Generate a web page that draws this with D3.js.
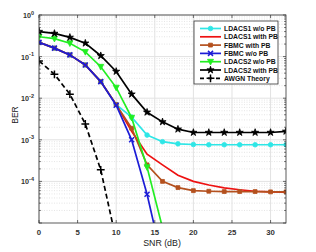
<!DOCTYPE html>
<html>
<head>
<meta charset="utf-8">
<script src="https://cdn.jsdelivr.net/npm/d3@7"></script>
<style>
  body { margin: 0; background: #fff; }
  svg { font-family: "Liberation Sans", Arial, sans-serif; }
</style>
</head>
<body>
<svg width="316" height="252"></svg>
<script>
var snr = [0, 2, 4, 6, 8, 10, 12, 14, 16, 18, 20, 22, 24, 26, 28, 30, 32];

var ldacs1NoPB = [0.22, 0.16, 0.11, 0.063, 0.025, 0.0070, 0.0035, 0.0013, 0.0009, 0.0008, 0.00077, 0.00076, 0.00076, 0.00076, 0.00076, 0.00076, 0.00076];
var ldacs1PB = [0.22, 0.16, 0.11, 0.063, 0.025, 0.0070, 0.0016, 0.00045, 0.00025, 0.00014, 0.0001, 0.000082, 0.00007, 0.000063, 0.000058, 0.000056, 0.000055];
var fbmcPB = [0.22, 0.16, 0.11, 0.063, 0.025, 0.0070, 0.0019, 0.00025, 0.0001, 0.000071, 0.00006, 0.000058, 0.000057, 0.000057, 0.000057, 0.000056, 0.000056];
var fbmcNoPB = [0.22, 0.16, 0.11, 0.063, 0.025, 0.0068, 0.001, 0.000049, 0.0000012];
var ldacs2NoPB = [0.30, 0.27, 0.21, 0.13, 0.057, 0.018, 0.0034, 0.00022, 0.0000077];
var ldacs2PB = [0.40, 0.36, 0.29, 0.21, 0.105, 0.044, 0.0125, 0.0046, 0.0027, 0.0018, 0.0015, 0.0015, 0.0015, 0.0015, 0.0015, 0.0015, 0.0016];
var awgn = [0.0786, 0.0375, 0.0125, 0.0024, 0.00019, 0.0000039];

var xTicks = [0, 5, 10, 15, 20, 25, 30];
var yTicks = [1e0, 1e-1, 1e-2, 1e-3, 1e-4];

var series = [
  {name: "LDACS1 w/o PB", values: ldacs1NoPB, color: "#2ee6e6", marker: "circle"},
  {name: "LDACS1 with PB", values: ldacs1PB, color: "#ee1111", marker: null},
  {name: "FBMC with PB", values: fbmcPB, color: "#b4501e", marker: "square"},
  {name: "FBMC w/o PB", values: fbmcNoPB, color: "#1c1cd6", marker: "x"},
  {name: "LDACS2 w/o PB", values: ldacs2NoPB, color: "#22ee22", marker: "tri"},
  {name: "LDACS2 with PB", values: ldacs2PB, color: "#000000", marker: "star"},
  {name: "AWGN Theory", values: awgn, color: "#000000", marker: "plus", dash: "5,3"}
];

var pLeft = 39, pRight = 286, pTop = 15, pBottom = 223;
var svg = d3.select("svg");

var x = d3.scaleLinear().domain([0, 32]).range([pLeft, pRight]);
var y = d3.scaleLog().domain([1e-5, 1]).range([pBottom, pTop]);

// grid
var grid = svg.append("g");
var minor = [];
for (var e = -5; e < 0; e++) {
  for (var m = 2; m < 10; m++) minor.push(m * Math.pow(10, e));
}
grid.selectAll(".minor").data(minor).enter().append("line")
  .attr("x1", pLeft).attr("x2", pRight)
  .attr("y1", d => y(d)).attr("y2", d => y(d))
  .attr("stroke", "#d4d4d4").attr("stroke-width", 0.6)
  .attr("stroke-dasharray", "1,1.5");
grid.selectAll(".majory").data(yTicks).enter().append("line")
  .attr("x1", pLeft).attr("x2", pRight)
  .attr("y1", d => y(d)).attr("y2", d => y(d))
  .attr("stroke", "#e2e2e2").attr("stroke-width", 1);
grid.selectAll(".majorx").data(xTicks).enter().append("line")
  .attr("y1", pTop).attr("y2", pBottom)
  .attr("x1", d => x(d)).attr("x2", d => x(d))
  .attr("stroke", "#e2e2e2").attr("stroke-width", 1);

svg.append("clipPath").attr("id", "clip")
  .append("rect").attr("x", pLeft).attr("y", pTop)
  .attr("width", pRight - pLeft).attr("height", pBottom - pTop);

var plot = svg.append("g").attr("clip-path", "url(#clip)");

// marker shapes, roughly MATLAB sized
function symbolPath(type) {
  if (type === "circle") return d3.symbol(d3.symbolCircle, 17)();
  if (type === "square") return d3.symbol(d3.symbolSquare, 15)();
  if (type === "star") return d3.symbol(d3.symbolStar, 16)();
  if (type === "x") return d3.symbol(d3.symbolX, 18)();
  if (type === "plus") return d3.symbol(d3.symbolPlus, 22)();
  if (type === "tri") {
    var h = 3;
    return "M" + (-h) + "," + (-h * 0.8) + "L" + h + "," + (-h * 0.8) + "L0," + (h * 1.1) + "Z";
  }
  return "";
}

var line = d3.line()
  .x((d, i) => x(snr[i]))
  .y(d => y(d));

series.forEach(s => {
  plot.append("path")
    .datum(s.values)
    .attr("fill", "none")
    .attr("stroke", s.color)
    .attr("stroke-width", 1.7)
    .attr("stroke-dasharray", s.dash || null)
    .attr("d", line);
  if (s.marker) {
    var filled = s.marker !== "x" && s.marker !== "plus";
    plot.selectAll(null).data(s.values).enter().append("path")
      .attr("transform", (d, i) => `translate(${x(snr[i])},${y(d)})`)
      .attr("d", symbolPath(s.marker))
      .attr("fill", filled ? s.color : "none")
      .attr("stroke", s.color)
      .attr("stroke-width", filled ? 0.8 : 1.5);
  }
});

// frame and ticks
svg.append("rect")
  .attr("x", pLeft).attr("y", pTop)
  .attr("width", pRight - pLeft).attr("height", pBottom - pTop)
  .attr("fill", "none").attr("stroke", "#333").attr("stroke-width", 0.8);

var tk = svg.append("g").attr("stroke", "#333").attr("stroke-width", 0.7);
xTicks.forEach(t => {
  tk.append("line").attr("x1", x(t)).attr("x2", x(t)).attr("y1", pBottom).attr("y2", pBottom - 3);
  tk.append("line").attr("x1", x(t)).attr("x2", x(t)).attr("y1", pTop).attr("y2", pTop + 3);
});
yTicks.concat([1e-5]).forEach(t => {
  tk.append("line").attr("x1", pLeft).attr("x2", pLeft + 3).attr("y1", y(t)).attr("y2", y(t));
  tk.append("line").attr("x1", pRight).attr("x2", pRight - 3).attr("y1", y(t)).attr("y2", y(t));
});
minor.forEach(t => {
  tk.append("line").attr("x1", pLeft).attr("x2", pLeft + 1.8).attr("y1", y(t)).attr("y2", y(t));
  tk.append("line").attr("x1", pRight).attr("x2", pRight - 1.8).attr("y1", y(t)).attr("y2", y(t));
});

svg.append("g").selectAll("text").data(xTicks).enter().append("text")
  .attr("x", d => x(d)).attr("y", 235)
  .attr("text-anchor", "middle")
  .attr("font-size", 7.8).attr("font-weight", "bold").attr("fill", "#333")
  .text(d => d);

var yl = svg.append("g").selectAll("text").data(yTicks).enter().append("text")
  .attr("x", 34).attr("y", d => y(d) + 3)
  .attr("text-anchor", "end")
  .attr("font-size", 7.2).attr("font-weight", "bold").attr("fill", "#333");
yl.append("tspan").text("10");
yl.append("tspan").attr("dy", -3.5).attr("font-size", 5.5)
  .text(d => Math.round(Math.log10(d)) === 0 ? "0" : "-" + Math.round(-Math.log10(d)));

svg.append("text")
  .attr("transform", "translate(18,115) rotate(-90)")
  .attr("text-anchor", "middle")
  .attr("font-size", 8.5).attr("fill", "#222")
  .text("BER");

svg.append("text")
  .attr("x", 162).attr("y", 246)
  .attr("text-anchor", "middle")
  .attr("font-size", 8.8).attr("fill", "#222")
  .text("SNR (dB)");

// legend
var lg = svg.append("g").attr("transform", "translate(194,21)");
lg.append("rect").attr("width", 84).attr("height", 63)
  .attr("fill", "#fff").attr("stroke", "#333").attr("stroke-width", 0.8);
series.forEach((s, i) => {
  var ry = 7.5 + i * 8.3;
  lg.append("line").attr("x1", 6).attr("x2", 27).attr("y1", ry).attr("y2", ry)
    .attr("stroke", s.color).attr("stroke-width", 1.7)
    .attr("stroke-dasharray", s.dash ? "4,4" : null);
  if (s.marker) {
    var filled = s.marker !== "x" && s.marker !== "plus";
    lg.append("path").attr("transform", `translate(16.5,${ry})`)
      .attr("d", symbolPath(s.marker))
      .attr("fill", filled ? s.color : "none")
      .attr("stroke", s.color).attr("stroke-width", filled ? 0.8 : 1.5);
  }
  lg.append("text").attr("x", 30).attr("y", ry + 2.5)
    .attr("font-size", 6.8).attr("font-weight", "bold").attr("fill", "#111")
    .text(s.name);
});
</script>
</body>
</html>
